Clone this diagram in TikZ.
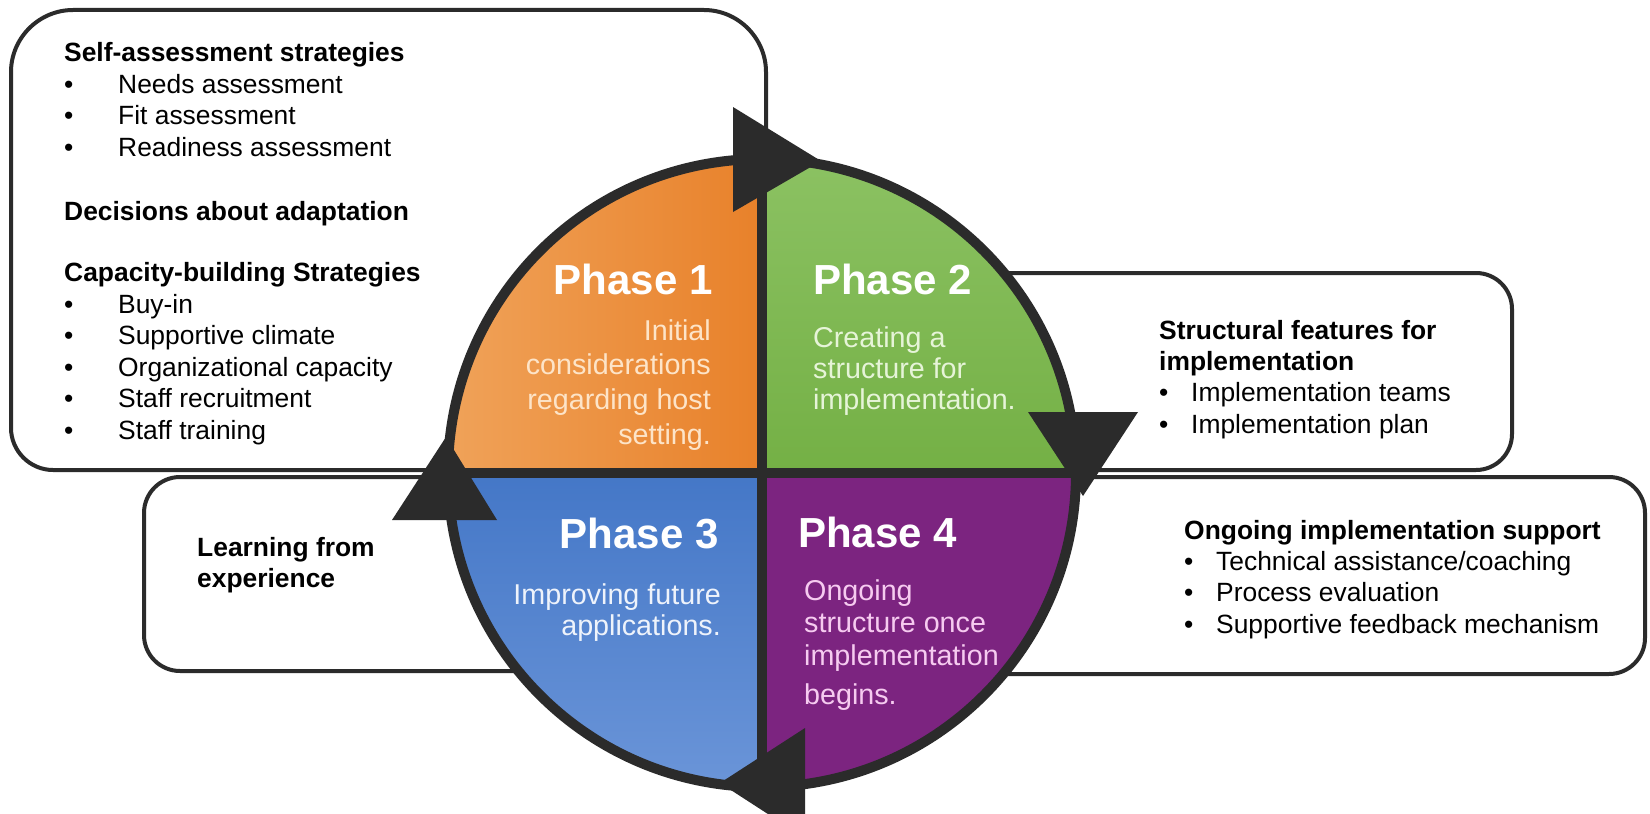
\documentclass[tikz,border=0pt]{standalone}
\usepackage{fontspec}
\setmainfont{Liberation Sans}
\definecolor{dk}{HTML}{2B2B2B}
\definecolor{orL}{HTML}{F0A35A}
\definecolor{orR}{HTML}{E8812A}
\definecolor{grT}{HTML}{8CC263}
\definecolor{grB}{HTML}{74B045}
\definecolor{blT}{HTML}{4477C7}
\definecolor{blB}{HTML}{6C96D9}
\definecolor{pu}{HTML}{7C2480}
\definecolor{txo}{HTML}{FDE4C8}
\definecolor{txg}{HTML}{E6F4D8}
\definecolor{txb}{HTML}{EEF3FB}
\definecolor{txp}{HTML}{F6CBF0}
\newcommand\lbul{\makebox[54bp][l]{•}}
\newcommand\rbul{\makebox[32bp][l]{•}}
\begin{document}
\begin{tikzpicture}[x=1bp,y=-1bp,
  boxline/.style={draw=dk, line width=4bp, fill=white},
  btxt/.style={inner sep=0pt, font=\fontsize{26.5}{31.6}\selectfont},
  ptitle/.style={inner sep=0pt, text=white, font=\bfseries\fontsize{42.2}{48}\selectfont},
  pdesc/.style={inner sep=0pt, font=\fontsize{28.8}{35.1}\selectfont}]
\useasboundingbox (0,0) rectangle (1650,814);
\clip (0,0) rectangle (1650,814);

% boxes
\path[boxline] (766,72) -- (766,470) -- (53,470) .. controls (30,470) and (11,451) .. (11,428)
  -- (11,72) .. controls (11,38) and (39,10) .. (73,10) -- (704,10)
  .. controls (738,10) and (766,38) .. (766,72) -- cycle;
\path[boxline, rounded corners=36bp] (800,273) rectangle (1512,470);
\path[boxline, rounded corners=36bp] (800,477) rectangle (1645,674);
\path[boxline, rounded corners=36bp] (144,477) rectangle (720,671);

% wheel quadrants
\coordinate (C) at (762,473);
\begin{scope}
  \clip (C) circle[radius=314];
  \shade[left color=orL, right color=orR] (440,150) rectangle (762,473);
  \shade[top color=grT, bottom color=grB] (762,150) rectangle (1090,473);
  \shade[top color=blT, bottom color=blB] (440,473) rectangle (762,800);
  \fill[pu] (762,473) rectangle (1090,800);
\end{scope}
\node[draw=dk, line width=10bp, circle, minimum size=628bp, inner sep=0pt, outer sep=0pt] (wheel) at (C) {};
\draw[dk, line width=10bp] (wheel.north) -- (wheel.south);
\draw[dk, line width=10bp] (wheel.west) -- (wheel.east);

% arrowheads
\fill[dk] (733,107) -- (733,212) -- (821,161) -- cycle;
\fill[dk] (1028,412) -- (1138,412) -- (1083,496) -- cycle;
\fill[dk] (805,728) -- (805,838) -- (720,783) -- cycle;
\fill[dk] (392,520) -- (497,520) -- (446,437) -- cycle;

% box texts
\node[btxt, anchor=base west] (selfass) at (64,62) {\begin{tabular}[t]{@{}l@{}}
\textbf{Self-assessment strategies}\\
\lbul Needs assessment\\
\lbul Fit assessment\\
\lbul Readiness assessment\\[33bp]
\textbf{Decisions about adaptation}\\[29.5bp]
\textbf{Capacity-building Strategies}\\
\lbul Buy-in\\
\lbul Supportive climate\\
\lbul Organizational capacity\\
\lbul Staff recruitment\\
\lbul Staff training
\end{tabular}};

\node[btxt, anchor=base west] (struct) at (1159,339) {\begin{tabular}[t]{@{}l@{}}
\textbf{Structural features for}\\
\textbf{implementation}\\
\rbul Implementation teams\\
\rbul Implementation plan
\end{tabular}};

\node[btxt, anchor=base west] (ongoing) at (1184,539) {\begin{tabular}[t]{@{}l@{}}
\textbf{Ongoing implementation support}\\
\rbul Technical assistance/coaching\\
\rbul Process evaluation\\
\rbul Supportive feedback mechanism
\end{tabular}};

\node[btxt, anchor=base west] (learn) at (197,556) {\begin{tabular}[t]{@{}l@{}}
\textbf{Learning from}\\
\textbf{experience}
\end{tabular}};

% phase texts
\node[ptitle, anchor=base east] (p1) at (713,294) {Phase 1};
\node[ptitle, anchor=base west] (p2) at (813,294) {Phase 2};
\node[ptitle, anchor=base east] (p3) at (719,548) {Phase 3};
\node[ptitle, anchor=base west] (p4) at (798,547) {Phase 4};

\node[pdesc, text=txo, anchor=base east] (d1) at (711,340) {\begin{tabular}[t]{@{}r@{}}
Initial\\ considerations\\ regarding host\\ setting.\end{tabular}};
\node[pdesc, text=txg, anchor=base west, font=\fontsize{28.8}{31.6}\selectfont] (d2) at (813,347) {\begin{tabular}[t]{@{}l@{}}
Creating a\\ structure for\\ implementation.\end{tabular}};
\node[pdesc, text=txb, anchor=base east, font=\fontsize{28.8}{32.1}\selectfont] (d3) at (721,604) {\begin{tabular}[t]{@{}r@{}}
Improving future\\ applications.\end{tabular}};
\node[pdesc, text=txp, anchor=base west, font=\fontsize{28.8}{33.1}\selectfont] (d4) at (804,600) {\begin{tabular}[t]{@{}l@{}}
Ongoing\\ structure once\\ implementation\\[6bp] begins.\end{tabular}};
\end{tikzpicture}
\end{document}
